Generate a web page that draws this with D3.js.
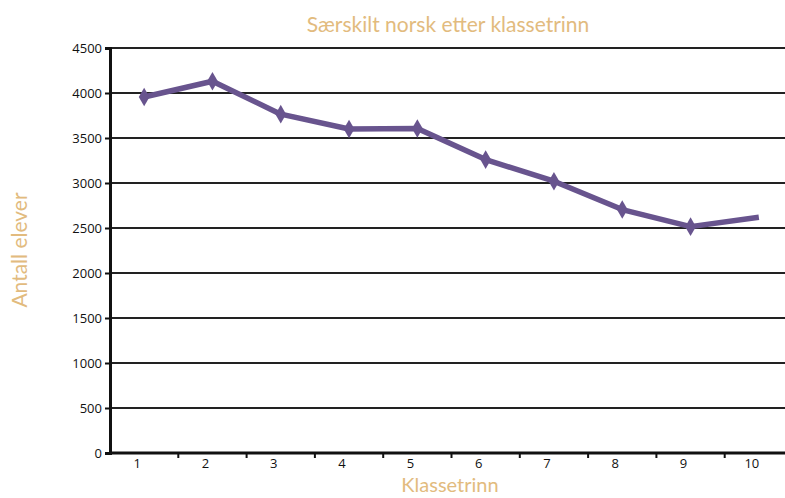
<!DOCTYPE html>
<html><head><meta charset="utf-8">
<script src="https://cdn.jsdelivr.net/npm/d3@7"></script>
<style>body{margin:0;background:#fff;}svg{display:block;}</style>
</head><body>
<script>
const categories = ["1","2","3","4","5","6","7","8","9","10"];
const values = [3955, 4130, 3765, 3600, 3605, 3260, 3020, 2705, 2515, 2620];
const yTicks = [0,500,1000,1500,2000,2500,3000,3500,4000,4500];
const title = "Særskilt norsk etter klassetrinn";
const xTitle = "Klassetrinn";
const yTitle = "Antall elever";

const W = 785, H = 498;
const svg = d3.select("body").append("svg").attr("width", W).attr("height", H);
const x = d3.scaleBand().domain(categories).range([110, 793]);
const y = d3.scaleLinear().domain([0, 4500]).range([453, 48]);
const gold = "#e2bb7e";
const purple = "#68548e";

// gridlines
svg.append("g").selectAll("line").data(yTicks.filter(d => d > 0)).join("line")
  .attr("x1", 110).attr("x2", W).attr("y1", d => y(d)).attr("y2", d => y(d))
  .attr("stroke", "#222").attr("stroke-width", 2);

// y axis
const yAxis = svg.append("g").attr("transform", "translate(110,0)")
  .call(d3.axisLeft(y).tickValues(yTicks).tickSize(5).tickPadding(3).tickFormat(d3.format("d")));
yAxis.select(".domain").attr("stroke", "#111").attr("stroke-width", 3);
yAxis.selectAll(".tick line").attr("stroke", "#111").attr("stroke-width", 2);
yAxis.selectAll("text").attr("font-family", "Open Sans, sans-serif").attr("font-size", 13).attr("fill", "#111");

// x axis
const xAxis = svg.append("g").attr("transform", "translate(0,453)")
  .call(d3.axisBottom(x).tickSize(0).tickPadding(6));
xAxis.select(".domain").remove();
xAxis.append("line").attr("x1", 110).attr("x2", W).attr("stroke", "#111").attr("stroke-width", 3);
xAxis.selectAll(".tick text").attr("font-family", "Open Sans, sans-serif").attr("font-size", 13)
  .attr("fill", "#111").attr("dx", -7);
xAxis.append("g").selectAll("line").data(categories.slice(1)).join("line")
  .attr("x1", d => x(d)).attr("x2", d => x(d)).attr("y1", 0).attr("y2", 5)
  .attr("stroke", "#111").attr("stroke-width", 2);

// line
const line = d3.line().x((d, i) => x(categories[i]) + x.bandwidth() / 2).y(d => y(d));
svg.append("path").datum(values).attr("d", line)
  .attr("fill", "none").attr("stroke", purple).attr("stroke-width", 5.5).attr("stroke-linejoin", "round");
svg.append("g").selectAll("path").data(values.slice(0, 9)).join("path")
  .attr("transform", (d, i) => `translate(${x(categories[i]) + x.bandwidth() / 2},${y(d)})`)
  .attr("d", d3.symbol().type(d3.symbolDiamond).size(100))
  .attr("fill", purple);

// titles
svg.append("text").attr("x", 448).attr("y", 32).attr("text-anchor", "middle")
  .attr("font-family", "Lato, sans-serif").attr("font-size", 21).attr("fill", gold).text(title);
svg.append("text").attr("x", 450).attr("y", 492).attr("text-anchor", "middle")
  .attr("font-family", "Lato, sans-serif").attr("font-size", 20).attr("fill", gold).text(xTitle);
svg.append("text").attr("transform", "translate(27,250) rotate(-90)").attr("text-anchor", "middle")
  .attr("font-family", "Lato, sans-serif").attr("font-size", 21).attr("fill", gold).text(yTitle);
</script>
</body></html>
